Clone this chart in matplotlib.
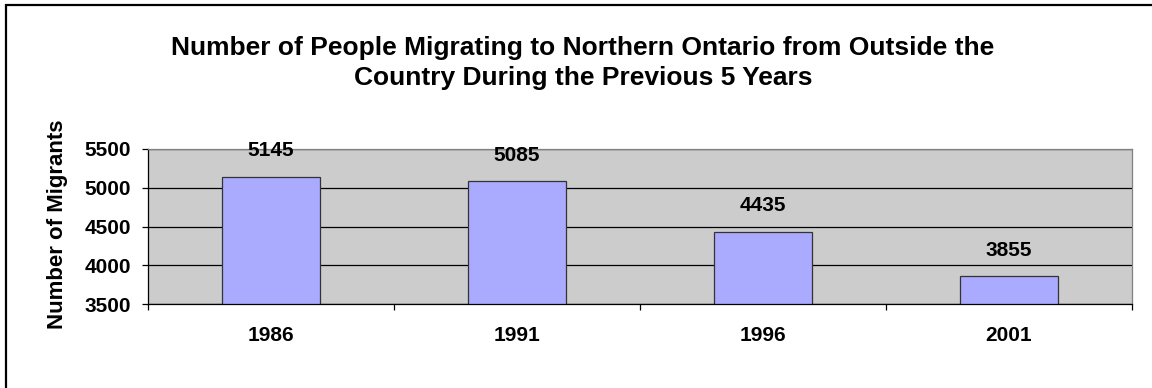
import numpy as np
import matplotlib
matplotlib.use("Agg")
import matplotlib.pyplot as plt
from matplotlib.patches import Rectangle

plt.rcParams['font.family'] = ['Liberation Sans', 'DejaVu Sans']
plt.rcParams['font.weight'] = 'bold'

# data
years = ['1986', '1991', '1996', '2001']
migrants = [5145, 5085, 4435, 3855]
y_ticks = [3500, 4000, 4500, 5000, 5500]

title_1 = 'Number of People Migrating to Northern Ontario from Outside the'
title_2 = 'Country During the Previous 5 Years'
y_title = 'Number of Migrants'

W, H = 1152, 388
fig = plt.figure(figsize=(W / 100, H / 100), dpi=100)
ax = fig.add_axes([148 / W, 1 - 304 / H, (1132 - 148) / W, (304 - 149) / H])

x = np.arange(len(years))
ax.bar(x, migrants, width=0.4, color='#AAAAFF', edgecolor='#333333', linewidth=0.9, zorder=2)

for xi, v in zip(x, migrants):
    ax.annotate(str(v), (xi, v), xytext=(0, 14.5), textcoords='offset points',
                ha='center', va='baseline', fontsize=15, fontweight='bold')

ax.set_facecolor('#CCCCCC')
ax.set_xlim(-0.5, len(years) - 0.5)
ax.set_ylim(y_ticks[0], y_ticks[-1])
ax.set_yticks(y_ticks)
ax.set_xticks(x)
ax.set_xticklabels(years)
ax.set_xticks(np.arange(-0.5, len(years)), minor=True)
ax.tick_params(axis='x', which='major', length=0, pad=16, labelsize=15)
ax.tick_params(axis='x', which='minor', length=4.3, width=0.9, color='black', direction='out')
ax.tick_params(axis='y', length=4.3, width=0.9, pad=8, labelsize=15)
for lab in ax.get_xticklabels() + ax.get_yticklabels():
    lab.set_fontweight('bold')

ax.set_axisbelow(True)
ax.yaxis.grid(True, color='black', linewidth=0.9)
ax.spines['top'].set_color('#808080')
ax.spines['right'].set_color('#808080')
ax.spines['left'].set_color('black')
ax.spines['bottom'].set_color('black')
for s in ax.spines.values():
    s.set_linewidth(0.9)

fig.text(583 / W, 1 - 55 / H, title_1, ha='center', va='baseline', fontsize=19, fontweight='bold')
fig.text(583 / W, 1 - 85 / H, title_2, ha='center', va='baseline', fontsize=19, fontweight='bold')
fig.text(57 / W, 1 - 224 / H, y_title, ha='center', va='center', rotation=90,
         fontsize=16, fontweight='bold')

# chart area border (runs off the right and bottom edge)
fig.patches.append(Rectangle((6 / W, -0.1), 1.2, 1.1 - 5.5 / H, transform=fig.transFigure,
                             fill=False, edgecolor='black', linewidth=1.6, clip_on=False))

fig.savefig('out.png', dpi=100, facecolor='white')
